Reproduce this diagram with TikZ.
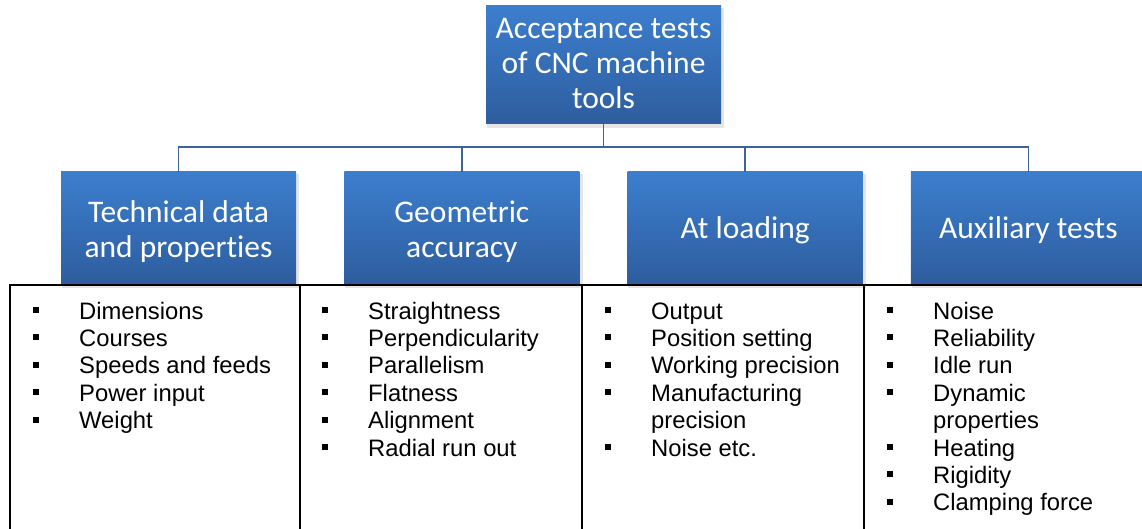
\documentclass[tikz,border=0pt]{standalone}
\usepackage{fontspec}
\setmainfont{Liberation Sans}
\newfontfamily\hfont[RawFeature={-liga;-clig;-calt;-dlig}]{Carlito}
\usetikzlibrary{shadows}
\definecolor{btop}{RGB}{60,126,206}
\definecolor{bbot}{RGB}{46,93,158}
\definecolor{conncol}{RGB}{62,100,150}
\begin{document}
\begin{tikzpicture}[x=1pt,y=-1pt,
  boxbase/.style={rectangle, inner sep=0pt, minimum width=235pt, top color=btop, bottom color=bbot, draw=none,
    general shadow={fill=black!10, shadow xshift=2pt, shadow yshift=-3pt, shadow scale=1.01}},
  topbox/.style={boxbase, minimum height=118pt},
  headbox/.style={boxbase, minimum height=112pt},
  htxt/.style={anchor=base, inner sep=0pt, text=white, font=\hfont\fontsize{31.5}{35}\selectfont},
  conn/.style={draw=conncol, line width=1.8pt},
  tab/.style={draw=black, line width=1.5pt},
  item/.style={anchor=base west, inner sep=0pt, font=\fontsize{23.8}{27.4}\selectfont},
  bul/.style={rectangle, fill=black, minimum size=6pt, inner sep=0pt}]
\useasboundingbox (0,0) rectangle (1142,529);
\clip (0,0) rectangle (1142,529);
\newcommand\itm[4]{\node[item] (#1) at (#2,{319+27.4*#3}) {#4};
  \node[bul] (#1b) at (#2-43.5,{319+27.4*#3-9}) {};}
\newcommand\cnt[4]{\node[item] (#1) at (#2,{319+27.4*#3}) {#4};}

% boxes
\node[topbox] (root) at (603.5,65) {};
\node[headbox] (h1) at (178.5,228) {};
\node[headbox] (h2) at (461.8,228) {};
\node[headbox] (h3) at (745.1,228) {};
\node[headbox] (h4) at (1028.4,228) {};

% box texts
\node[htxt] (r1) at (603.5,39) {Acceptance tests};
\node[htxt] (r2) at (603.5,74) {of CNC machine};
\node[htxt] (r3) at (603.5,109) {tools};
\node[htxt] (t1a) at (178.5,223) {Technical data};
\node[htxt] (t1b) at (178.5,258) {and proper\kern0pt ties};
\node[htxt] (t2a) at (461.8,223) {Geometric};
\node[htxt] (t2b) at (461.8,258) {accuracy};
\node[htxt] (t3) at (745.1,239) {At loading};
\node[htxt] (t4) at (1028.4,239) {Auxiliary tests};

% connectors
\coordinate (j0) at (603.5,147);
\coordinate (j1) at (h1.north |- j0);
\coordinate (j2) at (h2.north |- j0);
\coordinate (j3) at (h3.north |- j0);
\coordinate (j4) at (h4.north |- j0);
\draw[conn] (root.south) -- (j0);
\draw[conn] (h1.north) -- (j1) -- (j4) -- (h4.north);
\draw[conn] (j2) -- (h2.north);
\draw[conn] (j3) -- (h3.north);

% table
\draw[tab] (10,540) -- (10,285) -- (1150,285);
\draw[tab] (300,285) -- (300,540);
\draw[tab] (582,285) -- (582,540);
\draw[tab] (864,285) -- (864,540);

% column 1
\itm{a1}{79}{0}{Dimensions}
\itm{a2}{79}{1}{Courses}
\itm{a3}{79}{2}{Speeds and feeds}
\itm{a4}{79}{3}{Power input}
\itm{a5}{79}{4}{Weight}
% column 2
\itm{b1}{368}{0}{Straightness}
\itm{b2}{368}{1}{Perpendicularity}
\itm{b3}{368}{2}{Parallelism}
\itm{b4}{368}{3}{Flatness}
\itm{b5}{368}{4}{Alignment}
\itm{b6}{368}{5}{Radial run out}
% column 3
\itm{c1}{651}{0}{Output}
\itm{c2}{651}{1}{Position setting}
\itm{c3}{651}{2}{Working precision}
\itm{c4}{651}{3}{Manufacturing}
\cnt{c4x}{651}{4}{precision}
\itm{c5}{651}{5}{Noise etc.}
% column 4
\itm{d1}{933}{0}{Noise}
\itm{d2}{933}{1}{Reliability}
\itm{d3}{933}{2}{Idle run}
\itm{d4}{933}{3}{Dynamic}
\cnt{d4x}{933}{4}{properties}
\itm{d5}{933}{5}{Heating}
\itm{d6}{933}{6}{Rigidity}
\itm{d7}{933}{7}{Clamping force}
\end{tikzpicture}
\end{document}
